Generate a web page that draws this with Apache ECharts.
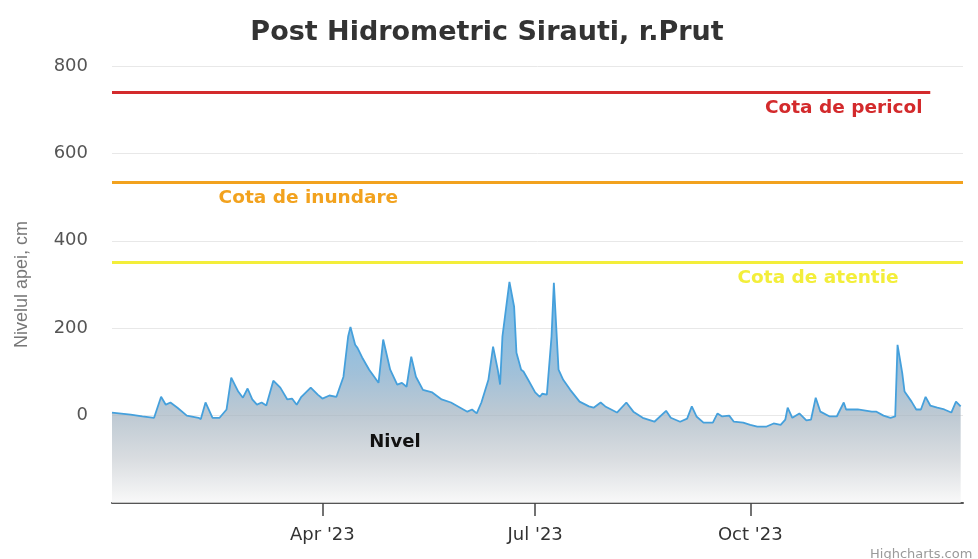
<!DOCTYPE html>
<html>
<head>
<meta charset="utf-8">
<script src="https://cdn.jsdelivr.net/npm/echarts@6/dist/echarts.min.js"></script>
<style>
html,body{margin:0;padding:0;background:#fff;}
#chart{width:978px;height:559px;}
</style>
</head>
<body>
<div id="chart"></div>
<script>
// ---- Data ----
const titleText = "Post Hidrometric Sirauti, r.Prut";
const yAxisName = "Nivelul apei, cm";
const seriesName = "Nivel";

const dates = [
 "2023-01-01","2023-01-09","2023-01-14","2023-01-19","2023-01-22","2023-01-24","2023-01-26","2023-01-29",
 "2023-02-02","2023-02-07","2023-02-08","2023-02-10","2023-02-13","2023-02-16","2023-02-19","2023-02-21",
 "2023-02-24","2023-02-26","2023-02-28","2023-03-02","2023-03-04","2023-03-06","2023-03-08","2023-03-11",
 "2023-03-14","2023-03-17","2023-03-19","2023-03-21","2023-03-23","2023-03-27","2023-03-30","2023-04-01",
 "2023-04-04","2023-04-07","2023-04-10","2023-04-12","2023-04-13","2023-04-15","2023-04-16","2023-04-18",
 "2023-04-21","2023-04-25","2023-04-27","2023-04-30","2023-05-03","2023-05-05","2023-05-07","2023-05-09",
 "2023-05-11","2023-05-14","2023-05-18","2023-05-22","2023-05-26","2023-05-29","2023-06-02","2023-06-04",
 "2023-06-06","2023-06-08","2023-06-11","2023-06-13","2023-06-15","2023-06-16","2023-06-17","2023-06-19",
 "2023-06-20","2023-06-22","2023-06-23","2023-06-25","2023-06-26","2023-06-28","2023-07-01","2023-07-03",
 "2023-07-04","2023-07-06","2023-07-08","2023-07-09","2023-07-11","2023-07-13","2023-07-16","2023-07-20",
 "2023-07-24","2023-07-26","2023-07-29","2023-07-31","2023-08-05","2023-08-09","2023-08-12","2023-08-16",
 "2023-08-21","2023-08-26","2023-08-28","2023-09-01","2023-09-04","2023-09-06","2023-09-08","2023-09-11",
 "2023-09-15","2023-09-17","2023-09-19","2023-09-22","2023-09-24","2023-09-28","2023-10-01","2023-10-04",
 "2023-10-08","2023-10-11","2023-10-14","2023-10-16","2023-10-17","2023-10-19","2023-10-22","2023-10-25",
 "2023-10-27","2023-10-29","2023-10-31","2023-11-04","2023-11-07","2023-11-10","2023-11-11","2023-11-16",
 "2023-11-22","2023-11-24","2023-11-27","2023-11-30","2023-12-02","2023-12-03","2023-12-05","2023-12-06",
 "2023-12-09","2023-12-11","2023-12-13","2023-12-15","2023-12-17","2023-12-20","2023-12-23","2023-12-26",
 "2023-12-28","2023-12-30"
];
const levels = [
 7,2,-2,-5,43,25,30,18,
 0,-5,-8,30,-5,-5,14,87,
 55,41,62,37,25,30,23,80,
 64,37,39,25,43,64,48,39,
 46,43,89,181,203,162,155,133,
 105,75,174,105,71,75,66,135,
 89,59,53,37,30,21,9,14,
 5,30,82,158,105,71,181,265,
 306,249,144,105,101,82,53,43,
 50,48,181,304,105,82,59,32,
 21,18,30,21,7,30,9,-5,
 -14,11,-5,-14,-7,21,-2,-16,
 -16,5,-2,0,-14,-16,-21,-25,
 -25,-18,-21,-9,18,-5,5,-11,
 -9,41,9,-2,-2,30,14,14,
 9,9,0,-5,-2,162,98,55,
 32,14,14,43,23,18,14,7,
 32,21
];

const xMin = "2023-01-01";
const xMax = "2023-12-31";
const xTickDates = ["2023-04-01","2023-07-01","2023-10-01"];
const xTickLabels = ["Apr '23","Jul '23","Oct '23"];
const yTicks = [-200, 0, 200, 400, 600, 800];

const thresholdNames = ["Cota de pericol","Cota de inundare","Cota de atentie"];
const thresholdValues = [740, 535, 350];
const thresholdColors = ["#d32a2c","#f2a21e","#f3ee3a"];
const pericolLineEnd = "2023-12-17";
const thresholdLabelDates = ["2023-11-10","2023-03-26","2023-10-30"];
const nivelLabelPos = ["2023-05-02", -62];

// ---- helpers ----
function toTime(s){ const p = s.split('-').map(Number); return Date.UTC(p[0], p[1]-1, p[2]); }
const seriesData = dates.map((d,i)=>[toTime(d), levels[i]]);
const tickTimes = xTickDates.map(toTime);

const chart = echarts.init(document.getElementById('chart'), null, {renderer:'canvas'});

const WIDE = 'DejaVu Sans, Verdana, sans-serif';
const FONT = 'Liberation Sans, Arial, sans-serif';
const thresholdMarkPoints = thresholdNames.map((name,i)=>({
  name: name,
  coord: [toTime(thresholdLabelDates[i]), thresholdValues[i]],
  symbol: 'circle', symbolSize: 0,
  label: {
    show: true, formatter: name, position: 'inside', offset: [0, 16],
    color: thresholdColors[i], fontSize: 18.5, fontWeight: 'bold', fontFamily: WIDE
  }
}));

const option = {
  animation: false,
  backgroundColor: '#ffffff',
  title: {
    text: titleText, left: 482, textAlign: 'center', top: 14,
    textStyle: {fontFamily: WIDE, fontSize: 27, fontWeight: 'bold', color: '#333333'}
  },
  grid: {left: 112, right: 15, top: 66, bottom: 56, containLabel: false},
  xAxis: {
    type: 'value',
    min: toTime(xMin), max: toTime(xMax),
    axisLine: {show: true, onZero: false, lineStyle: {color: '#555555', width: 2}},
    axisTick: {show: true, length: 13, customValues: tickTimes, lineStyle: {color: '#444444', width: 1.5}},
    axisLabel: {
      customValues: tickTimes, margin: 23,
      color: '#333333', fontSize: 18, fontFamily: WIDE,
      formatter: function(v){ const i = tickTimes.indexOf(v); return i >= 0 ? xTickLabels[i] : ''; }
    },
    splitLine: {show: false}
  },
  yAxis: {
    type: 'value', min: yTicks[0], max: yTicks[yTicks.length-1], interval: 200,
    name: yAxisName, nameLocation: 'middle', nameRotate: 90, nameGap: 81,
    nameTextStyle: {color: '#777777', fontSize: 18, fontFamily: FONT},
    axisLine: {show: false}, axisTick: {show: false},
    axisLabel: {
      margin: 24, color: '#555555', fontSize: 18, fontFamily: WIDE,
      formatter: function(v){ return v === yTicks[0] ? '' : String(v); }
    },
    splitLine: {show: true, lineStyle: {color: '#e8e8e8', width: 1}}
  },
  series: [{
    name: seriesName,
    type: 'line',
    data: seriesData,
    showSymbol: false,
    smooth: false,
    lineStyle: {color: '#45a0dc', width: 1.8},
    areaStyle: {
      origin: 'start',
      color: new echarts.graphic.LinearGradient(0, 0, 0, 1, [
        {offset: 0, color: '#389ee2'},
        {offset: 0.42, color: '#7aa6c8'},
        {offset: 0.6, color: '#a1b2c0'},
        {offset: 0.8, color: '#c9ced3'},
        {offset: 1, color: '#f6f6f6'}
      ])
    },
    markLine: {
      silent: true, symbol: 'none', animation: false,
      label: {show: false},
      data: [
        [{coord: [toTime(xMin), thresholdValues[0]], lineStyle: {color: thresholdColors[0], width: 3, type: 'solid'}},
         {coord: [toTime(pericolLineEnd), thresholdValues[0]]}],
        {yAxis: thresholdValues[1], lineStyle: {color: thresholdColors[1], width: 3, type: 'solid'}},
        {yAxis: thresholdValues[2], lineStyle: {color: thresholdColors[2], width: 3, type: 'solid'}}
      ]
    },
    markPoint: {
      silent: true, animation: false,
      data: thresholdMarkPoints.concat([{
        name: seriesName,
        coord: [toTime(nivelLabelPos[0]), nivelLabelPos[1]],
        symbol: 'circle', symbolSize: 0,
        label: {show: true, formatter: seriesName, position: 'inside', color: '#111111', fontSize: 18, fontWeight: 'bold', fontFamily: WIDE}
      }])
    }
  }],
  graphic: [{
    type: 'text', left: 870, bottom: -2,
    style: {text: 'Highcharts.com', fill: '#9a9a9a', fontSize: 13, fontFamily: WIDE}
  }]
};
chart.setOption(option);
</script>
</body>
</html>
